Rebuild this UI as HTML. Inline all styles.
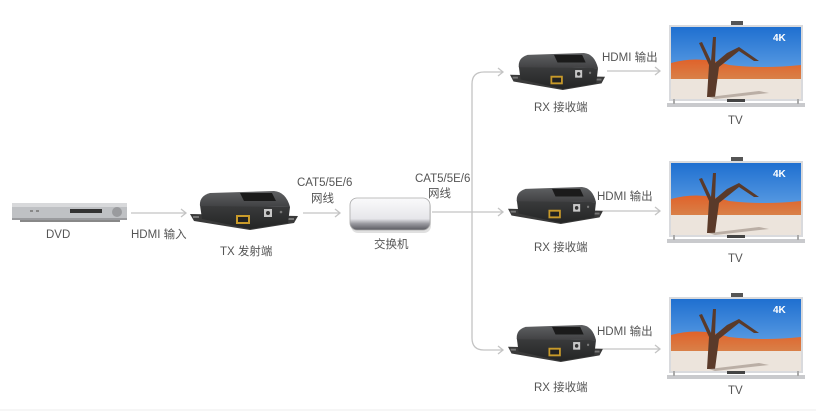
<!DOCTYPE html>
<html><head><meta charset="utf-8"><style>
html,body{margin:0;padding:0;background:#fff;}
svg{display:block}
text{font-family:"Liberation Sans","Noto Sans CJK SC",sans-serif;font-size:11.5px;fill:#555;}
</style></head><body>
<svg width="816" height="413" viewBox="0 0 816 413" xmlns="http://www.w3.org/2000/svg">
<defs>
<linearGradient id="sky" x1="0" y1="0" x2="0" y2="1">
<stop offset="0" stop-color="#1f6fd0"/><stop offset="1" stop-color="#7fb8ee"/></linearGradient>
<linearGradient id="dune" x1="0" y1="0" x2="0" y2="1">
<stop offset="0" stop-color="#e0622a"/><stop offset="1" stop-color="#d98048"/></linearGradient>
<linearGradient id="sw" x1="0" y1="0" x2="0" y2="1">
<stop offset="0" stop-color="#fafafb"/><stop offset="0.65" stop-color="#e6e6ea"/><stop offset="0.8" stop-color="#9a9aa0"/><stop offset="1" stop-color="#5a5a60"/></linearGradient>
<linearGradient id="top" x1="0" y1="0" x2="0" y2="1">
<stop offset="0" stop-color="#606163"/><stop offset="1" stop-color="#404143"/></linearGradient>
<linearGradient id="front" x1="0" y1="0" x2="0" y2="1">
<stop offset="0" stop-color="#3a3b3c"/><stop offset="1" stop-color="#242525"/></linearGradient>
<g id="dev">
<polygon points="0,24 108,26 104,33 60,40 4,31" fill="#3a3a3a"/>
<rect x="3" y="26" width="6" height="2" fill="#777"/><rect x="98" y="28" width="6" height="2" fill="#777"/>
<polygon points="10,15 100,17 98,33 60,39 12,29" fill="url(#front)"/>
<path d="M10,16 Q9,6 20,3 L84,1 Q96,2 100,17 Z" fill="url(#top)"/>
<polygon points="50,3 82,3 86,11 54,11" fill="#1b1b1b"/>
<rect x="46" y="25" width="14" height="9" fill="#c89a2a"/><rect x="48" y="27" width="10" height="5" fill="#222"/>
<rect x="74" y="19" width="8" height="8" fill="#c8c8c8"/><circle cx="78" cy="23" r="2" fill="#333"/>
<circle cx="91" cy="22" r="1.3" fill="#777"/>
</g>
<g id="tv">
<rect x="0" y="0" width="134" height="76" fill="#d9dadd"/>
<rect x="2" y="2" width="130" height="72" fill="url(#sky)"/>
<path d="M2,38 Q30,30 60,40 Q95,44 132,40 L132,54 L2,54 Z" fill="url(#dune)"/>
<rect x="2" y="54" width="130" height="20" fill="#ece4dc"/>
<path d="M38,72 L40,40 L30,18 L33,17 L42,36 L44,12 L47,12 L46,38 L58,28 L70,22 L90,36 L85,36 L70,26 L50,42 L46,72 Z" fill="#5a3a2a"/>
<path d="M40,72 L90,66 L100,68 L46,74Z" fill="#9a8a80" opacity="0.6"/>
<text x="104" y="16" style="font-size:10px;font-weight:bold;fill:#fff">4K</text>
<rect x="62" y="-4" width="12" height="4" fill="#555"/>
<rect x="-2" y="78" width="138" height="4" fill="#c9cacd"/>
<rect x="4" y="74" width="2" height="5" fill="#aaa"/><rect x="128" y="74" width="2" height="5" fill="#aaa"/>
<rect x="58" y="74" width="18" height="3" fill="#444"/>
</g>
</defs>
<line x1="0" y1="410" x2="816" y2="410" stroke="#eeeeee" stroke-width="1"/>

<rect x="12" y="203" width="115" height="17" rx="2" fill="#bfc1c4"/>
<rect x="12" y="203" width="115" height="4" fill="#d8d9db"/>
<rect x="70" y="209" width="32" height="4" fill="#333"/>
<rect x="30" y="210" width="3" height="2" fill="#888"/><rect x="36" y="210" width="3" height="2" fill="#888"/>
<circle cx="117" cy="212" r="5" fill="#9a9b9e"/>
<rect x="12" y="218" width="115" height="2" fill="#9a9b9e"/>
<rect x="20" y="220" width="100" height="2" fill="#888"/>
<text x="46" y="238">DVD</text>

<g stroke="#c4c4c4" stroke-width="1.3" fill="none">
<line x1="131" y1="213" x2="186" y2="213"/><polyline points="181,209 186,213 181,217"/>
<line x1="303" y1="213" x2="340" y2="213"/><polyline points="335,209 340,213 335,217"/>
<line x1="432" y1="212" x2="503" y2="212"/><polyline points="498,208 503,212 498,216"/>
<path d="M503,72 L484,72 Q472,72 472,84 L472,338 Q472,350 484,350 L503,350"/>
<polyline points="498,68 503,72 498,76"/><polyline points="498,346 503,350 498,354"/>
<line x1="607" y1="71" x2="660" y2="71"/><polyline points="655,67 660,71 655,75"/>
<line x1="603" y1="211" x2="660" y2="211"/><polyline points="655,207 660,211 655,215"/>
<line x1="603" y1="349" x2="660" y2="349"/><polyline points="655,345 660,349 655,353"/>
</g>
<text x="131" y="238">HDMI 输入</text>

<use href="#dev" x="190" y="190"/>
<text x="220" y="255">TX 发射端</text>
<text x="297" y="186">CAT5/5E/6</text>
<text x="311" y="202">网线</text>

<rect x="351" y="200" width="80" height="33" rx="7" fill="#000" opacity="0.12"/>
<rect x="350" y="198" width="80" height="32" rx="7" fill="url(#sw)" stroke="#aaa" stroke-width="0.8"/>
<text x="374" y="248">交换机</text>
<text x="415" y="182">CAT5/5E/6</text>
<text x="428" y="197">网线</text>

<g transform="translate(510,52) scale(0.88,0.95)"><use href="#dev"/></g>
<g transform="translate(508,186) scale(0.88,0.95)"><use href="#dev"/></g>
<g transform="translate(508,324) scale(0.88,0.95)"><use href="#dev"/></g>
<text x="534" y="111">RX 接收端</text>
<text x="534" y="251">RX 接收端</text>
<text x="534" y="391">RX 接收端</text>
<text x="602" y="61">HDMI 输出</text>
<text x="597" y="200">HDMI 输出</text>
<text x="597" y="335">HDMI 输出</text>

<use href="#tv" x="669" y="25"/>
<use href="#tv" x="669" y="161"/>
<use href="#tv" x="669" y="297"/>
<text x="728" y="124">TV</text>
<text x="728" y="262">TV</text>
<text x="728" y="394">TV</text>
</svg>
</body></html>
